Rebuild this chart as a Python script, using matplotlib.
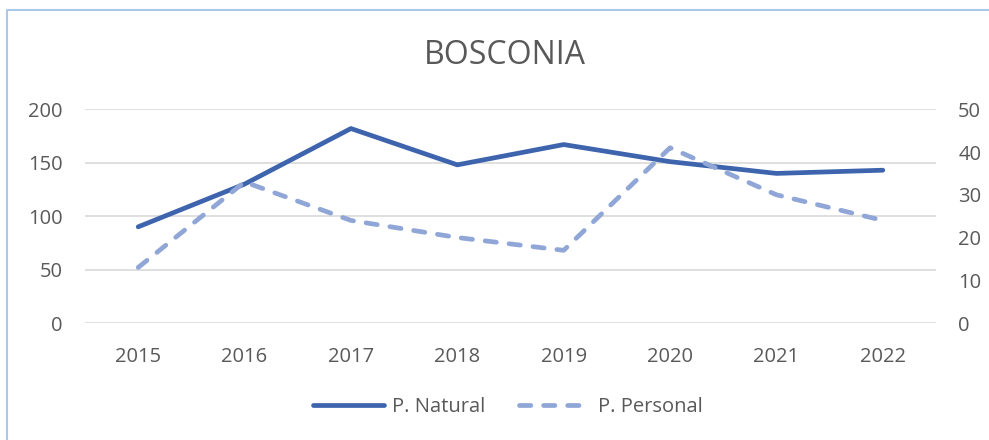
import matplotlib.pyplot as plt
from matplotlib.lines import Line2D

years = ['2015', '2016', '2017', '2018', '2019', '2020', '2021', '2022']
p_natural = [90, 130, 182, 148, 167, 151, 140, 143]
p_personal = [13, 33, 24, 20, 17, 41, 30, 24]

plt.rcParams['font.family'] = ['Open Sans', 'DejaVu Sans']
text_color = '#595959'
W, H = 989, 440

fig = plt.figure(figsize=(W / 100, H / 100), dpi=100)
ax = fig.add_axes([85 / W, 1 - 323 / H, (936 - 85) / W, (323 - 109.3) / H])
ax2 = ax.twinx()

x = list(range(len(years)))
l1, = ax.plot(x, p_natural, color='#3D64AD', lw=3.4, solid_capstyle='round',
              solid_joinstyle='round', label='P. Natural', zorder=3)
l2, = ax2.plot(x, p_personal, color='#8FA6D7', lw=3.4, dash_capstyle='round',
               linestyle=(0, (2.4, 2.7)), label='P. Personal', zorder=3)

ax.set_xlim(-0.5, len(years) - 0.5)
ax.set_ylim(0, 200)
ax.set_yticks([0, 50, 100, 150, 200])
ax2.set_ylim(0, 50)
ax2.set_yticks([0, 10, 20, 30, 40, 50])
ax.set_xticks(x)
ax.set_xticklabels(years)

ax.grid(axis='y', color='#D9D9D9', lw=1.2)
ax.set_axisbelow(True)
for a in (ax, ax2):
    for s in a.spines.values():
        s.set_visible(False)
    a.tick_params(length=0, labelsize=14.5, colors=text_color)
ax.tick_params(axis='y', pad=16)
ax.tick_params(axis='x', pad=17)
ax2.tick_params(axis='y', pad=16)

fig.text(505 / W, 1 - 55 / H, 'BOSCONIA', ha='center', va='center',
         fontsize=23, color=text_color)

fig.legend(handles=[l1, l2], loc='center', bbox_to_anchor=(508 / W, 1 - 407 / H),
           ncol=2, frameon=False, fontsize=14.5, handlelength=3.5, handletextpad=0.4,
           columnspacing=1.7, labelcolor=text_color)

# chart border: only top and left edges are visible in the reference
border = Line2D([7 / W, 7 / W, 1.0], [0.0, 1 - 10 / H, 1 - 10 / H],
                transform=fig.transFigure, color='#A9C8EA', lw=1.5)
fig.add_artist(border)

fig.savefig('out.png', dpi=100)
